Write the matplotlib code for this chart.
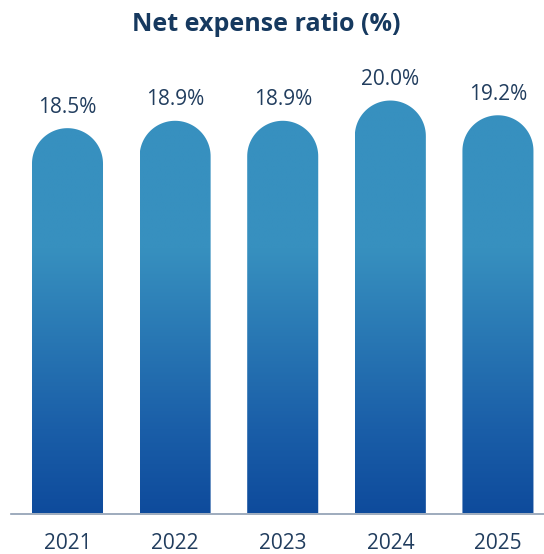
import matplotlib

matplotlib.use("Agg")

import matplotlib.pyplot as plt
import numpy as np
from matplotlib.colors import to_rgb
from matplotlib.patches import PathPatch
from matplotlib.path import Path

years = ["2021", "2022", "2023", "2024", "2025"]
expense_ratio = [18.5, 18.9, 18.9, 20.0, 19.2]
value_labels = ["18.5%", "18.9%", "18.9%", "20.0%", "19.2%"]

TITLE = "Net expense ratio (%)"
NAVY = "#16395f"
TEXT = "#213d5e"

FIG_W, FIG_H, DPI = 5.44, 5.54, 100
Y_MIN, Y_MAX = -2.42, 22.2
X_MIN, X_MAX = -0.525, 4.428
BAR_W = 0.66

# colour stops of the vertical gradient (data value -> colour)
grad_pos = [Y_MIN, 2.1, 11.9, Y_MAX]
grad_col = ["#0e4b9c", "#1a5ea8", "#3790bf", "#3790bf"]

plt.rcParams["font.family"] = ["Open Sans", "DejaVu Sans"]

fig = plt.figure(figsize=(FIG_W, FIG_H), dpi=DPI)
ax = fig.add_axes([11 / 544, 40.5 / 554, 533 / 544, 453.5 / 554])
ax.set_xlim(X_MIN, X_MAX)
ax.set_ylim(Y_MIN, Y_MAX)

# pixel -> data scale, so the caps come out as true semicircles
ax_w_px = FIG_W * DPI * ax.get_position().width
ax_h_px = FIG_H * DPI * ax.get_position().height
px_per_x = ax_w_px / (X_MAX - X_MIN)
px_per_y = ax_h_px / (Y_MAX - Y_MIN)
rx = BAR_W / 2
ry = rx * px_per_x / px_per_y

# gradient image shared by all bars
yy = np.linspace(Y_MIN, Y_MAX, 400)
rgb = np.array([to_rgb(c) for c in grad_col])
grad = np.stack([np.interp(yy, grad_pos, rgb[:, k]) for k in range(3)], axis=-1)
grad = np.repeat(grad[:, None, :], 2, axis=1)

theta = np.linspace(0, np.pi, 60)
for i, v in enumerate(expense_ratio):
    cy = v - ry
    arc = np.column_stack([i + rx * np.cos(theta), cy + ry * np.sin(theta)])
    verts = np.vstack([[i + rx, Y_MIN], arc, [i - rx, Y_MIN], [i + rx, Y_MIN]])
    codes = [Path.MOVETO] + [Path.LINETO] * (len(verts) - 2) + [Path.CLOSEPOLY]
    patch = PathPatch(Path(verts, codes), facecolor="none", edgecolor="none")
    ax.add_patch(patch)
    im = ax.imshow(grad, extent=(i - rx, i + rx, Y_MIN, Y_MAX), origin="lower",
                   aspect="auto", interpolation="bilinear", zorder=2)
    im.set_clip_path(patch)
    ax.annotate(value_labels[i], (i, v), xytext=(0, 11.2), textcoords="offset points",
                ha="center", va="baseline", fontsize=15, color=TEXT)

ax.set_xlim(X_MIN, X_MAX)
ax.set_ylim(Y_MIN, Y_MAX)

for side in ["top", "right", "left"]:
    ax.spines[side].set_visible(False)
ax.spines["bottom"].set_color("#8d9db2")
ax.spines["bottom"].set_linewidth(1.2)
ax.spines["bottom"].set_zorder(3)
ax.set_yticks([])
ax.set_xticks(range(len(years)))
ax.set_xticklabels(years, fontsize=15, color=TEXT)
ax.tick_params(axis="x", length=0, pad=14)

fig.text(0.49, 0.944, TITLE, ha="center", va="baseline", fontsize=18,
         fontweight="bold", color=NAVY)

fig.savefig("out.png", dpi=DPI)
